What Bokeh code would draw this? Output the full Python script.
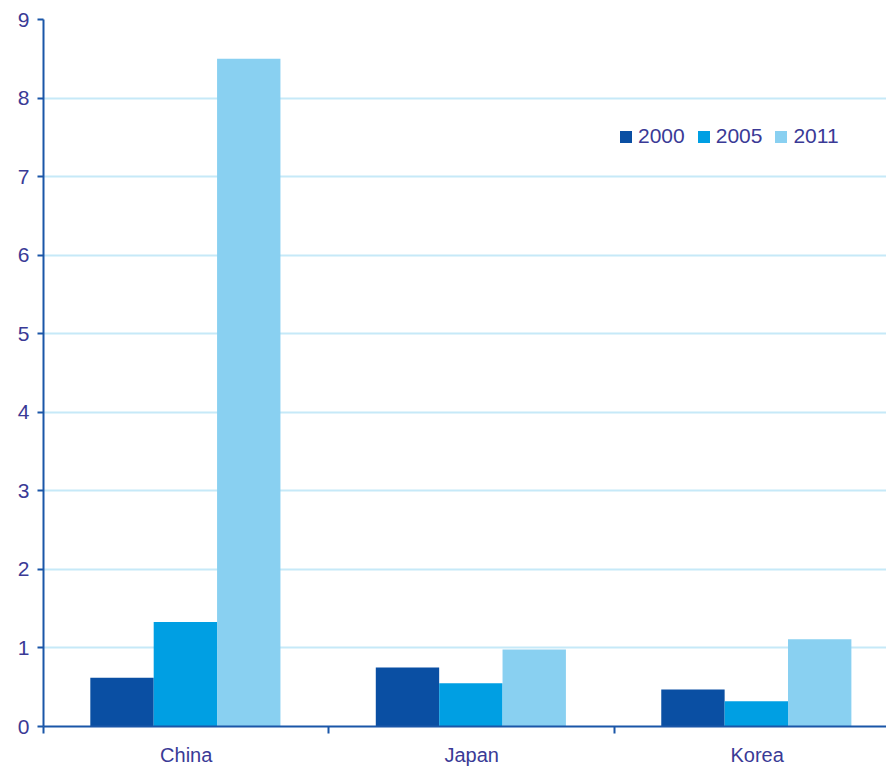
from bokeh.plotting import figure
from bokeh.models import FixedTicker, Range1d, Legend, LegendItem
from bokeh.embed import file_html
from bokeh.resources import INLINE

categories = ["China", "Japan", "Korea"]
years = ["2000", "2005", "2011"]
v2000 = [0.62, 0.75, 0.47]
v2005 = [1.33, 0.55, 0.32]
v2011 = [8.5, 0.98, 1.11]
colors = ["#0a4fa3", "#009fe3", "#89d0f1"]
y_ticks = list(range(0, 10))

TEXT = "#3a3a96"
AXIS = "#1a56a8"
FONT = "Liberation Sans"

p = figure(width=886, height=768, output_backend="svg", toolbar_location=None,
           x_range=Range1d(0, 2.953), y_range=Range1d(0, 9),
           min_border_left=43, min_border_top=19, min_border_right=0, min_border_bottom=41)
p.outline_line_color = None
p.xgrid.visible = False
p.ygrid.grid_line_color = "#c6e9f8"
p.ygrid.grid_line_width = 2

bw = 0.222
renderers = []
for j, (vals, c) in enumerate(zip([v2000, v2005, v2011], colors)):
    xs = [i + 0.497 + (j - 1) * bw for i in range(len(categories))]
    r = p.vbar(x=xs, top=vals, width=bw, bottom=0, fill_color=c, line_color=None)
    renderers.append(r)

# y axis
p.yaxis.ticker = FixedTicker(ticks=y_ticks)
p.yaxis.axis_line_color = AXIS
p.yaxis.axis_line_width = 2
p.yaxis.major_tick_line_color = AXIS
p.yaxis.major_tick_line_width = 2
p.yaxis.major_tick_out = 6
p.yaxis.major_tick_in = 0
p.yaxis.minor_tick_line_color = None
p.yaxis.major_label_standoff = 8
p.yaxis.major_label_text_font = FONT
p.yaxis.major_label_text_font_size = "21px"
p.yaxis.major_label_text_color = TEXT

# x axis
p.xaxis.ticker = FixedTicker(ticks=[i + 0.5 for i in range(len(categories))],
                             minor_ticks=list(range(len(categories) + 1)))
p.xaxis.major_label_overrides = {i + 0.5: c for i, c in enumerate(categories)}
p.xaxis.axis_line_color = AXIS
p.xaxis.axis_line_width = 2
p.xaxis.major_tick_line_color = None
p.xaxis.major_tick_out = 0
p.xaxis.major_tick_in = 0
p.xaxis.minor_tick_line_color = AXIS
p.xaxis.minor_tick_line_width = 2
p.xaxis.minor_tick_out = 7
p.xaxis.minor_tick_in = 0
p.xaxis.major_label_standoff = 10
p.xaxis.major_label_text_font = FONT
p.xaxis.major_label_text_font_size = "20px"
p.xaxis.major_label_text_color = TEXT

legend = Legend(items=[LegendItem(label=y, renderers=[r]) for y, r in zip(years, renderers)],
                orientation="horizontal", location=(575, 578))
legend.padding = 0
legend.margin = 0
legend.spacing = 11
legend.glyph_width = 15
legend.glyph_height = 15
legend.label_standoff = 5
legend.label_text_font = FONT
legend.label_text_font_size = "21px"
legend.label_text_color = TEXT
legend.background_fill_alpha = 0
legend.border_line_color = None
p.add_layout(legend)

open("out.html", "w").write(file_html(p, INLINE))
